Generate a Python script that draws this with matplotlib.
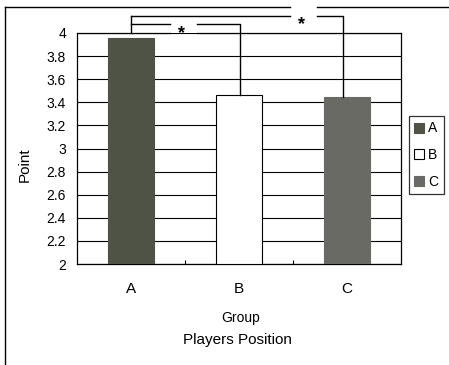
import matplotlib
matplotlib.use("Agg")
import matplotlib.pyplot as plt
from matplotlib.lines import Line2D
from matplotlib.patches import Patch

categories = ["A", "B", "C"]
values = [3.96, 3.46, 3.45]
colors = ["#4f5345", "#ffffff", "#6a6a65"]
edges = ["#4f5345", "#000000", "#6a6a65"]
yticks = [2, 2.2, 2.4, 2.6, 2.8, 3, 3.2, 3.4, 3.6, 3.8, 4]
ytick_labels = ["2", "2.2", "2.4", "2.6", "2.8", "3", "3.2", "3.4", "3.6", "3.8", "4"]

plt.rcParams['font.family'] = ['Liberation Sans', 'DejaVu Sans']

W, H = 449, 365
fig = plt.figure(figsize=(W / 100, H / 100), dpi=100)
ax = fig.add_axes([77 / W, 1 - 264 / H, (401 - 77) / W, (264 - 33) / H])

x = list(range(len(categories)))
ax.bar(x, [v - 2 for v in values], bottom=2, width=0.42, color=colors,
       edgecolor=edges, linewidth=0.8, zorder=3)
ax.set_xlim(-0.5, 2.5)
ax.set_ylim(2, 4)
ax.set_yticks(yticks)
ax.set_yticklabels(ytick_labels, fontsize=10)
ax.set_xticks(x)
ax.set_xticklabels(categories, fontsize=11)
ax.tick_params(axis='y', length=0, pad=8)
ax.tick_params(axis='x', length=0, pad=13)
ax.set_xticks([0.5, 1.5], minor=True)
ax.tick_params(axis='x', which='minor', direction='in', length=3, width=0.8)
ax.grid(axis='y', color='black', linewidth=0.8, zorder=0)
for s in ['left', 'right', 'bottom']:
    ax.spines[s].set_linewidth(0.9)
ax.spines['top'].set_visible(False)

lw = 1.0
# manual top frame with gap under first star
def px2x(px):
    return (px - 131) / 108.0

def py2y(py):
    return 4 - (py - 33) / 115.5

ax.plot([-0.5, px2x(170)], [4, 4], color='black', lw=0.9, clip_on=False, zorder=4)
ax.plot([px2x(197), 2.5], [4, 4], color='black', lw=0.9, clip_on=False, zorder=4)

y1 = py2y(24)
y2 = py2y(16)
# bracket A-C
ax.plot([0, 0], [4, y2], color='black', lw=lw, clip_on=False, zorder=4)
ax.plot([0, px2x(290)], [y2, y2], color='black', lw=lw, clip_on=False, zorder=4)
ax.plot([px2x(317), px2x(343), px2x(343)], [y2, y2, values[2]], color='black', lw=lw, clip_on=False, zorder=4)
# bracket A-B
ax.plot([0, px2x(170)], [y1, y1], color='black', lw=lw, clip_on=False, zorder=4)
ax.plot([px2x(197), px2x(240), px2x(240)], [y1, y1, values[1]], color='black', lw=lw, clip_on=False, zorder=4)
ax.text(px2x(182), py2y(34), "*", ha='center', va='center', fontsize=13, fontweight='bold', clip_on=False)
ax.text(px2x(301), py2y(25), "*", ha='center', va='center', fontsize=13, fontweight='bold', clip_on=False)

# outer frame
fig.add_artist(Line2D([5 / W, 5 / W], [0, 1 - 7 / H], color='black', lw=1.0, transform=fig.transFigure))
fig.add_artist(Line2D([5 / W, 290 / W], [1 - 7 / H, 1 - 7 / H], color='black', lw=1.0, transform=fig.transFigure))
fig.add_artist(Line2D([317 / W, 1], [1 - 7 / H, 1 - 7 / H], color='black', lw=1.0, transform=fig.transFigure))

fig.text(25 / W, 1 - 165 / H, "Point", rotation=90, ha='center', va='center', fontsize=11)
fig.text(241 / W, 1 - 318 / H, "Group", ha='center', va='center', fontsize=10)
fig.text(237 / W, 1 - 340 / H, "Players Position", ha='center', va='center', fontsize=11)

handles = [Patch(facecolor=c, edgecolor=('black' if c == '#ffffff' else c), linewidth=0.8) for c in colors]
leg = fig.legend(handles, categories, loc='center', bbox_to_anchor=(426 / W, 1 - 155 / H),
                 fontsize=10, frameon=True, fancybox=False, handlelength=0.7, handleheight=0.7,
                 handletextpad=0.3, labelspacing=0.9, borderpad=0.4, borderaxespad=0)
leg.get_frame().set_edgecolor('black')
leg.get_frame().set_linewidth(0.9)

fig.savefig("out.png", dpi=100)
